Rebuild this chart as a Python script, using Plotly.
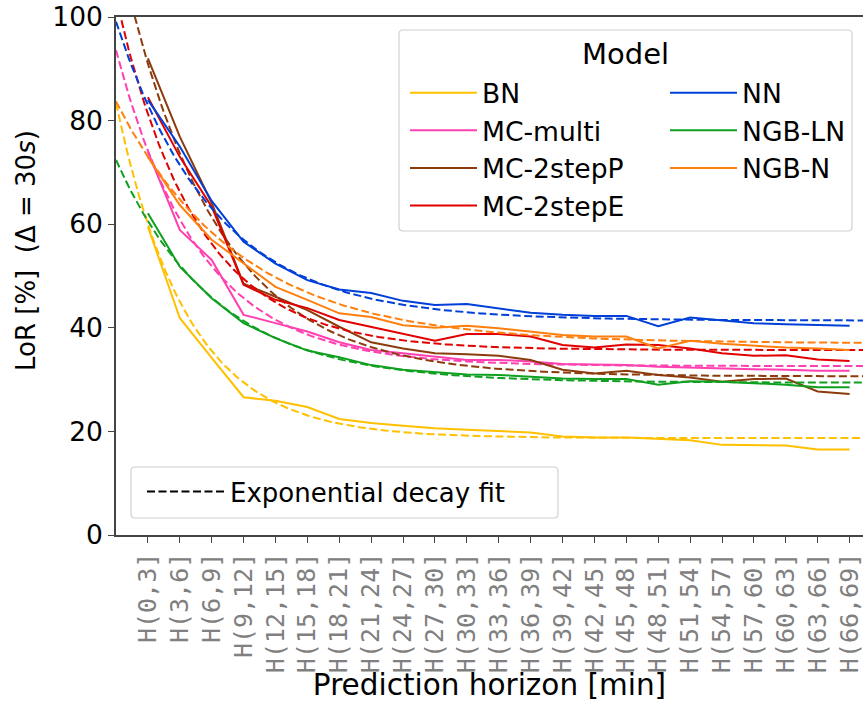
import numpy as np
import plotly.graph_objects as go

horizons = ["H(0,3]", "H(3,6]", "H(6,9]", "H(9,12]", "H(12,15]", "H(15,18]", "H(18,21]",
            "H(21,24]", "H(24,27]", "H(27,30]", "H(30,33]", "H(33,36]", "H(36,39]", "H(39,42]",
            "H(42,45]", "H(45,48]", "H(48,51]", "H(51,54]", "H(54,57]", "H(57,60]", "H(60,63]",
            "H(63,66]", "H(66,69]"]

models = ["BN", "MC-multi", "MC-2stepP", "MC-2stepE", "NN", "NGB-LN", "NGB-N"]

lor_BN = [59.5, 41.9, 34.2, 26.6, 25.9, 24.7, 22.4, 21.6, 21.1, 20.6, 20.3, 20.1, 19.8, 19.0,
          18.8, 18.8, 18.6, 18.3, 17.4, 17.3, 17.3, 16.5, 16.5]
lor_MC_multi = [74.0, 58.9, 53.1, 42.5, 40.9, 39.3, 37.2, 35.7, 35.1, 34.4, 33.8, 33.8, 33.5, 33.0,
                32.9, 32.8, 32.5, 32.3, 32.2, 32.0, 31.9, 31.7, 31.7]
lor_MC_2stepP = [92.0, 76.9, 64.1, 48.5, 46.0, 43.4, 40.2, 37.2, 36.0, 35.1, 34.9, 34.6, 33.8, 31.9,
                 31.2, 31.7, 30.9, 30.4, 29.6, 30.1, 30.2, 27.7, 27.2]
lor_MC_2stepE = [84.5, 73.0, 63.4, 48.3, 45.4, 43.8, 41.5, 40.2, 38.8, 37.5, 38.8, 38.8, 38.3, 36.7,
                 36.2, 36.8, 36.7, 36.0, 35.1, 34.6, 34.7, 33.9, 33.6]
lor_NN = [84.0, 75.0, 64.5, 56.6, 52.4, 49.2, 47.4, 46.7, 45.2, 44.4, 44.6, 43.8, 42.9, 42.5,
          42.3, 42.3, 40.3, 42.0, 41.4, 40.9, 40.7, 40.5, 40.4]
lor_NGB_LN = [62.1, 51.8, 45.7, 40.9, 38.0, 35.6, 34.3, 32.8, 31.9, 31.4, 31.0, 30.9, 30.6, 30.2,
              30.1, 30.1, 29.0, 29.7, 29.6, 29.3, 29.0, 28.5, 28.5]
lor_NGB_N = [73.0, 63.7, 57.0, 52.4, 47.9, 45.4, 42.8, 42.1, 40.5, 40.0, 40.4, 39.9, 39.3, 38.6,
             38.3, 38.3, 36.0, 37.5, 36.9, 36.5, 36.2, 36.0, 35.7]

# exponential decay fit  y = offset + amplitude * exp(-rate * (x + 1))
fit_amplitude = [64.7, 61.0, 84.7, 68.0, 57.7, 43.0, 46.7]
fit_rate = [0.449, 0.384, 0.338, 0.40, 0.327, 0.321, 0.26]
fit_offset = [18.7, 32.6, 30.6, 35.7, 41.4, 29.4, 37.0]

colors = ["#ffc000", "#ff40b0", "#8c3b0c", "#e00000", "#0040d8", "#10a020", "#ff7f0e"]
legend_rank = [1, 3, 5, 7, 2, 4, 6]
legend_width = [173, 173, 173, 173, 104, 104, 104]

series = [lor_BN, lor_MC_multi, lor_MC_2stepP, lor_MC_2stepE, lor_NN, lor_NGB_LN, lor_NGB_N]

x_idx = list(range(len(horizons)))
x_min, x_max = -1, 22.42
x_fit = np.linspace(x_min, x_max, 300)
DASH = "8px,3.5px"

# plot area in pixels (for placing legend frames)
L, T, R, B = 116, 17, 863, 535
PW, PH = R - L, B - T


def px(xp):
    return (xp - L) / PW


def py(yp):
    return (B - yp) / PH


def rounded_box(x0p, y0p, x1p, y1p, r=4):
    x0, x1 = px(x0p), px(x1p)
    yb, yt = py(y1p), py(y0p)
    rx, ry = r / PW, r / PH
    return (f"M {x0+rx},{yt} L {x1-rx},{yt} Q {x1},{yt} {x1},{yt-ry} "
            f"L {x1},{yb+ry} Q {x1},{yb} {x1-rx},{yb} L {x0+rx},{yb} "
            f"Q {x0},{yb} {x0},{yb+ry} L {x0},{yt-ry} Q {x0},{yt} {x0+rx},{yt} Z")


fig = go.Figure()
for i, m in enumerate(models):
    fig.add_trace(go.Scatter(
        x=x_idx, y=series[i], mode="lines", name=m,
        line=dict(color=colors[i], width=2),
        legendrank=legend_rank[i], legendwidth=legend_width[i], legend="legend"))
    y_fit = fit_offset[i] + fit_amplitude[i] * np.exp(-fit_rate[i] * (x_fit - x_min))
    fig.add_trace(go.Scatter(
        x=x_fit, y=y_fit, mode="lines", showlegend=False,
        line=dict(color=colors[i], width=2, dash=DASH)))

fig.add_trace(go.Scatter(
    x=[None], y=[None], mode="lines", name="Exponential decay fit",
    line=dict(color="black", width=2, dash=DASH), legend="legend2", legendwidth=323))

FONT = "DejaVu Sans"
frame = dict(type="path", xref="paper", yref="paper", layer="above",
             line=dict(color="#d0d0d0", width=1.2), fillcolor="rgba(255,255,255,0.85)")

fig.update_layout(
    width=863, height=702,
    margin=dict(l=L, r=863 - R, t=T, b=702 - B, pad=0),
    paper_bgcolor="white", plot_bgcolor="white",
    font=dict(family=FONT, color="black", size=26),
    showlegend=True,
    legend=dict(
        orientation="h", x=px(400), xanchor="left", y=py(69), yanchor="top",
        bgcolor="rgba(0,0,0,0)", borderwidth=0,
        font=dict(family=FONT, size=26.6, color="black"),
        itemwidth=67, indentation=5, entrywidthmode="pixels",
    ),
    legend2=dict(
        orientation="h", x=px(132), xanchor="left", y=py(468), yanchor="top",
        bgcolor="rgba(0,0,0,0)", borderwidth=0,
        font=dict(family=FONT, size=26, color="black"),
        itemwidth=78, indentation=10,
    ),
    shapes=[
        dict(frame, path=rounded_box(399, 30, 852, 231)),
        dict(frame, path=rounded_box(131, 467, 558, 518)),
    ],
    xaxis=dict(
        range=[x_min, x_max], tickmode="array", tickvals=x_idx, ticktext=horizons,
        tickangle=-90, tickfont=dict(family="DejaVu Sans Mono", size=25, color="#808080"),
        ticklabeloverflow="allow",
        ticks="outside", ticklen=6, tickwidth=1.2, tickcolor="#444444",
        showline=True, linecolor="#444444", linewidth=1.5, mirror=True,
        showgrid=False, zeroline=False,
        title=dict(text="Prediction horizon [min]", font=dict(family=FONT, size=29.5), standoff=0),
    ),
    yaxis=dict(
        range=[0, 100], tickvals=[0, 20, 40, 60, 80, 100],
        tickfont=dict(family=FONT, size=26.5, color="black"),
        ticks="outside", ticklen=6, tickwidth=1.2, tickcolor="#444444",
        showline=True, linecolor="#444444", linewidth=1.5, mirror=False,
        showgrid=False, zeroline=False,
    ),
    annotations=[
        dict(text="LoR [%]\u00a0\u00a0(\u0394 = 30<i>s</i>)", textangle=-90,
             xref="paper", yref="paper", x=px(26), y=py(251),
             xanchor="center", yanchor="middle", showarrow=False,
             font=dict(family=FONT, size=26, color="black")),
        dict(text="Model", xref="paper", yref="paper", x=px(625.5), y=py(54),
             xanchor="center", yanchor="middle", showarrow=False,
             font=dict(family=FONT, size=29, color="black")),
    ],
)

fig.write_html("out.html")
